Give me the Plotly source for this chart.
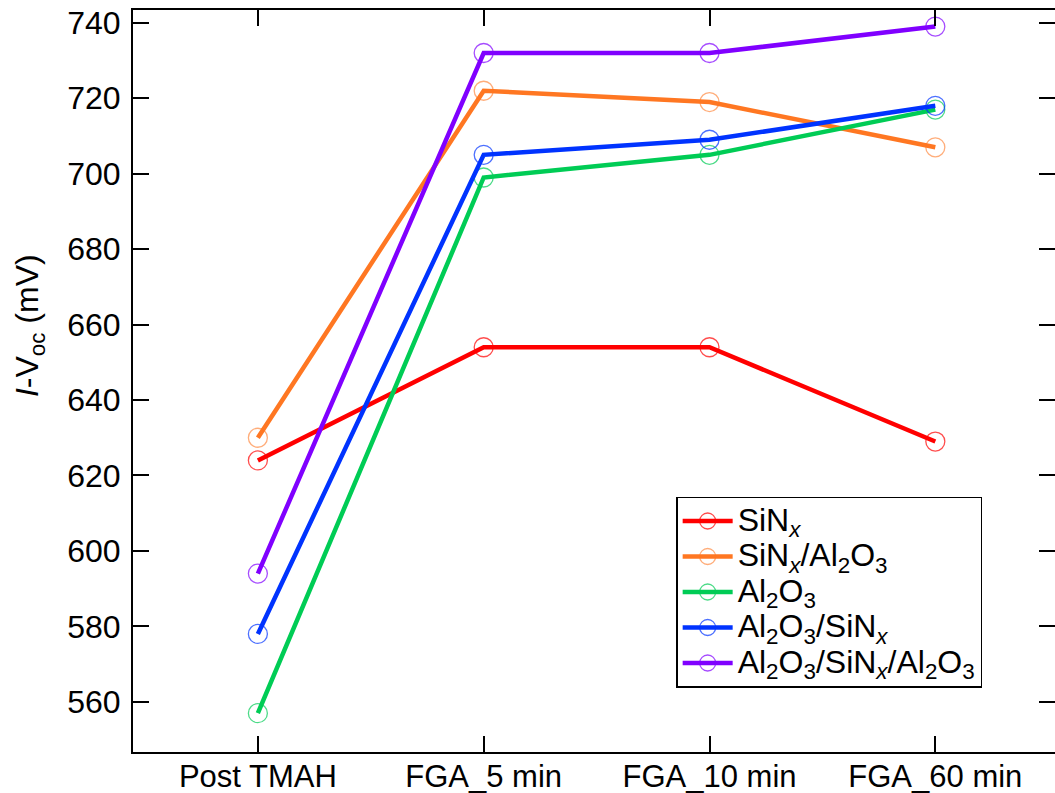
import plotly.graph_objects as go

# Process steps and I-Voc values (mV) for each passivation stack
steps = ["Post TMAH", "FGA_5 min", "FGA_10 min", "FGA_60 min"]
sinx = [624, 654, 654, 629]
sinx_al2o3 = [630, 722, 719, 707]
al2o3 = [557, 699, 705, 717]
al2o3_sinx = [578, 705, 709, 718]
al2o3_sinx_al2o3 = [594, 732, 732, 739]

series_names = [
    "SiN<sub><i>x</i></sub>",
    "SiN<sub><i>x</i></sub>/Al<sub>2</sub>O<sub>3</sub>",
    "Al<sub>2</sub>O<sub>3</sub>",
    "Al<sub>2</sub>O<sub>3</sub>/SiN<sub><i>x</i></sub>",
    "Al<sub>2</sub>O<sub>3</sub>/SiN<sub><i>x</i></sub>/Al<sub>2</sub>O<sub>3</sub>",
]
series_values = [sinx, sinx_al2o3, al2o3, al2o3_sinx, al2o3_sinx_al2o3]
line_colors = ["#FF0000", "#FF7722", "#00CC55", "#0033FF", "#8000FF"]
marker_colors = [
    "rgba(255,0,0,0.7)",
    "rgba(255,119,34,0.6)",
    "rgba(0,204,85,0.7)",
    "rgba(0,51,255,0.7)",
    "rgba(128,0,255,0.7)",
]

FONT = "Liberation Sans, Arial, Helvetica, sans-serif"

fig = go.Figure()
for name, vals, lc, mc in zip(series_names, series_values, line_colors, marker_colors):
    fig.add_trace(go.Scatter(
        x=list(range(len(steps))),
        y=vals,
        name='<span style="font-size:32px">' + name + "</span>",
        mode="lines+markers",
        line=dict(color=lc, width=4.5),
        marker=dict(symbol="circle-open", size=19, color=mc,
                    line=dict(width=1.3, color=mc)),
    ))

axis_common = dict(
    showline=True, linecolor="black", linewidth=2,
    ticks="inside", ticklen=16, tickwidth=2, tickcolor="black",
    mirror="allticks", showgrid=False, zeroline=False, automargin=False,
)

fig.update_xaxes(
    tickmode="array", tickvals=list(range(len(steps))), ticktext=steps,
    range=[-0.553, 3.53], ticklabelstandoff=-4,
    tickfont=dict(family=FONT, size=31, color="black"), **axis_common,
)
fig.update_yaxes(
    tickmode="array", tickvals=list(range(560, 741, 20)),
    range=[546.7, 743.4], ticklabelstandoff=4,
    tickfont=dict(family=FONT, size=32, color="black"), **axis_common,
)

fig.add_annotation(
    text="<i>I</i>-V<sub>oc</sub> (mV)",
    xref="paper", yref="paper", x=-0.112, y=0.575,
    xanchor="center", yanchor="middle", textangle=-90, showarrow=False,
    font=dict(family=FONT, size=32, color="black"),
)

fig.update_layout(
    width=1055, height=793,
    margin=dict(l=133, r=0, t=10, b=41),
    paper_bgcolor="white", plot_bgcolor="white",
    showlegend=True,
    legend=dict(
        x=0.921, y=0.344, xanchor="right", yanchor="top",
        bgcolor="white", bordercolor="black", borderwidth=1.5,
        font=dict(family=FONT, size=25, color="black"),
        tracegroupgap=0, itemwidth=50,
    ),
)

fig.write_html("out.html")
